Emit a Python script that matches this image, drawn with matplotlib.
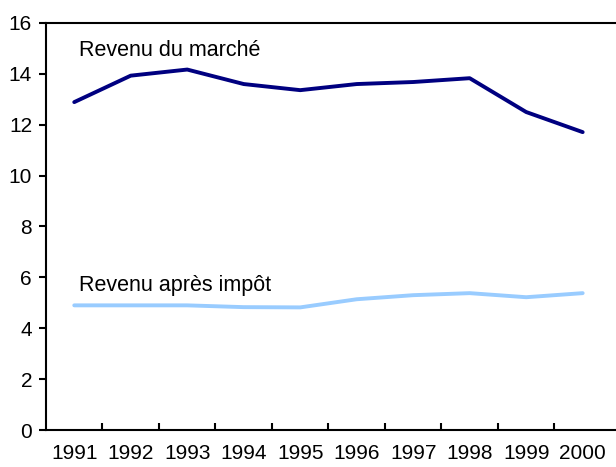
import matplotlib
matplotlib.use('Agg')
import matplotlib.pyplot as plt
import numpy as np

plt.rcParams['font.family'] = ['Liberation Sans', 'DejaVu Sans']

years = ['1991', '1992', '1993', '1994', '1995', '1996', '1997', '1998', '1999', '2000']
marche = [12.89, 13.93, 14.17, 13.60, 13.36, 13.60, 13.68, 13.83, 12.50, 11.71]
apres_impot = [4.90, 4.90, 4.90, 4.83, 4.82, 5.14, 5.30, 5.38, 5.22, 5.38]

fig = plt.figure(figsize=(6.16, 4.67), dpi=100)
ax = fig.add_axes([46/616, 37/467, 570/616, 407/467])

x = np.arange(len(years))
ax.plot(x, marche, color='#000080', lw=2.8, solid_capstyle='round', solid_joinstyle='round')
ax.plot(x, apres_impot, color='#99CCFF', lw=2.8, solid_capstyle='round', solid_joinstyle='round')

ax.text(0.08, 14.92, 'Revenu du marché', fontsize=15.5, va='center', ha='left')
ax.text(0.08, 5.7, 'Revenu après impôt', fontsize=15.5, va='center', ha='left')

ax.set_xlim(-0.5, 9.59)
ax.set_ylim(0, 16)
ax.set_yticks(range(0, 17, 2))
ax.set_xticks(x)
ax.set_xticklabels(years)
ax.set_xticks(x[:-1] + 0.5, minor=True)

ax.tick_params(axis='y', direction='out', length=5, width=1.5, labelsize=15, pad=5)
ax.tick_params(axis='x', which='major', length=0, labelsize=15, pad=10)
ax.tick_params(axis='x', which='minor', direction='in', length=5, width=1.5)

for s in ['left', 'bottom', 'top']:
    ax.spines[s].set_linewidth(1.5)
ax.spines['right'].set_visible(False)

fig.savefig('out.png', dpi=100)
